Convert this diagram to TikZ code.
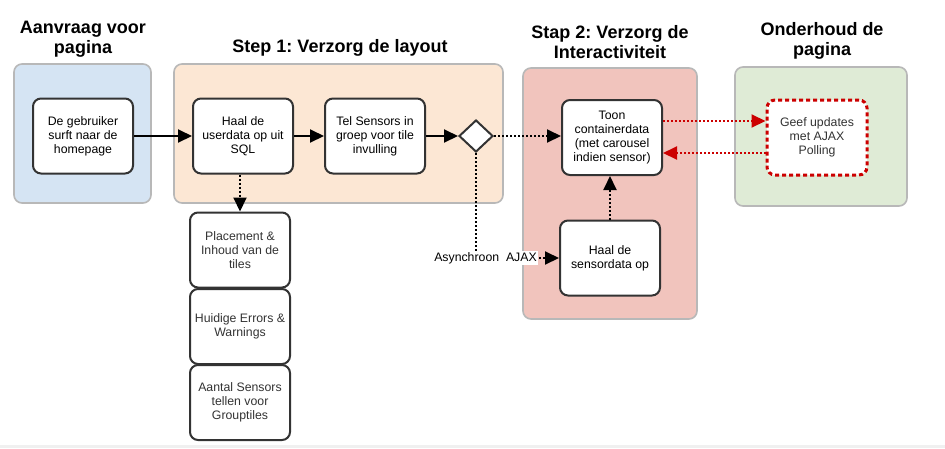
\documentclass[tikz,border=0pt]{standalone}
\usepackage{fontspec}
\setmainfont{Liberation Sans}
\frenchspacing
\usetikzlibrary{arrows.meta,shapes.geometric}
\definecolor{bluefill}{HTML}{D5E4F3}
\definecolor{orangefill}{HTML}{FCE7D4}
\definecolor{redfill}{HTML}{F1C4BD}
\definecolor{greenfill}{HTML}{DFEBD6}
\definecolor{laneborder}{HTML}{B8B8B8}
\definecolor{boxborder}{HTML}{333333}
\definecolor{dred}{HTML}{CC0000}
\definecolor{bottomgray}{HTML}{F0F0F0}
\tikzset{
  lane/.style={draw=laneborder, line width=1.6pt, rounded corners=8pt},
  title/.style={font=\fontsize{18}{20}\selectfont\bfseries, align=center, inner sep=0pt},
  task/.style={draw=boxborder, fill=white, line width=2pt, rounded corners=8pt,
    minimum width=100pt, minimum height=75pt, align=center, inner sep=1pt,
    font=\fontsize{12.3}{14}\selectfont, text=black},
  gate/.style={draw=boxborder, fill=white, line width=2pt, diamond, aspect=1.06,
    minimum width=34pt, minimum height=32pt, inner sep=0pt},
  tip/.style={-{Triangle[length=14pt,width=13pt]}},
  flow/.style={line width=2pt, tip},
  dflow/.style={line width=2pt, dash pattern=on 2pt off 2pt, tip},
  rflow/.style={draw=dred, line width=2pt, dash pattern=on 2pt off 2pt, -{Triangle[length=14pt,width=13pt,fill=dred]}},
  lbl/.style={fill=white, inner sep=1pt, font=\fontsize{12.3}{14}\selectfont},
}
\begin{document}
\begin{tikzpicture}[x=1pt,y=-1pt]
\useasboundingbox (0,0) rectangle (945,448);
\fill[white] (0,0) rectangle (945,448);
\fill[bottomgray] (0,445) rectangle (945,448);
% lanes
\draw[lane, fill=bluefill] (14,64) rectangle (151,203);
\draw[lane, fill=orangefill] (174,64) rectangle (503,203);
\draw[lane, fill=redfill] (523,68) rectangle (697,319);
\draw[lane, fill=greenfill] (735,67) rectangle (907,206);
% titles
\node[title] (t1) at (83,39) {Aanvraag voor\\pagina};
\node[title] (t2) at (340,48) {Step 1: Verzorg de layout};
\node[title] (t3) at (610,42) {Stap 2: Verzorg de\\Interactiviteit};
\node[title] (t4) at (822,41) {Onderhoud de\\pagina};
% tasks
\node[task] (gebr) at (83,136) {De gebruiker\\surft naar de\\homepage};
\node[task] (user) at (243,136) {Haal de\\userdata op uit\\SQL};
\node[task] (tel) at (375,136) {Tel Sensors in\\groep voor tile\\invulling};
\node[gate] (gw) at (476,136) {};
\node[task] (toon) at (612,137.5) {Toon\\containerdata\\(met carousel\\indien sensor)};
\node[task] (sens) at (610,258) {Haal de\\sensordata op};
\node[task, draw=dred, line width=3pt, dash pattern=on 4pt off 3pt, text=black!80] (geef) at (817,137.5) {Geef updates\\met AJAX\\Polling};
\node[task, text=black!80] (plac) at (240,250) {Placement \&\\Inhoud van de\\tiles};
\node[task, text=black!80] (huid) at (240,326.5) {Huidige Errors \&\\Warnings};
\node[task, text=black!80] (aant) at (240,402.5) {Aantal Sensors\\tellen voor\\Grouptiles};
% connectors
\draw[flow] (gebr) -- (user);
\draw[flow] (user) -- (tel);
\draw[flow] (tel.east) -- (gw.west);
\draw[dflow] (gw.east) -- (toon.west |- gw.east);
\draw[dflow] (user.south -| plac.north) -- (plac.north);
\draw[dflow] (sens.north) -- (sens.north |- toon.south);
\coordinate (bend) at (gw.south |- sens.west);
\draw[dflow] (gw.south) -- (bend) -- (sens.west);
\node[lbl, anchor=east] (ajax) at (538,258) {Asynchroon\ \ AJAX};
\draw[rflow] ([yshift=16.5pt]toon.east) -- ([yshift=16.5pt]geef.west);
\draw[rflow] ([yshift=-15.5pt]geef.west) -- ([yshift=-15.5pt]toon.east);
\end{tikzpicture}
\end{document}
